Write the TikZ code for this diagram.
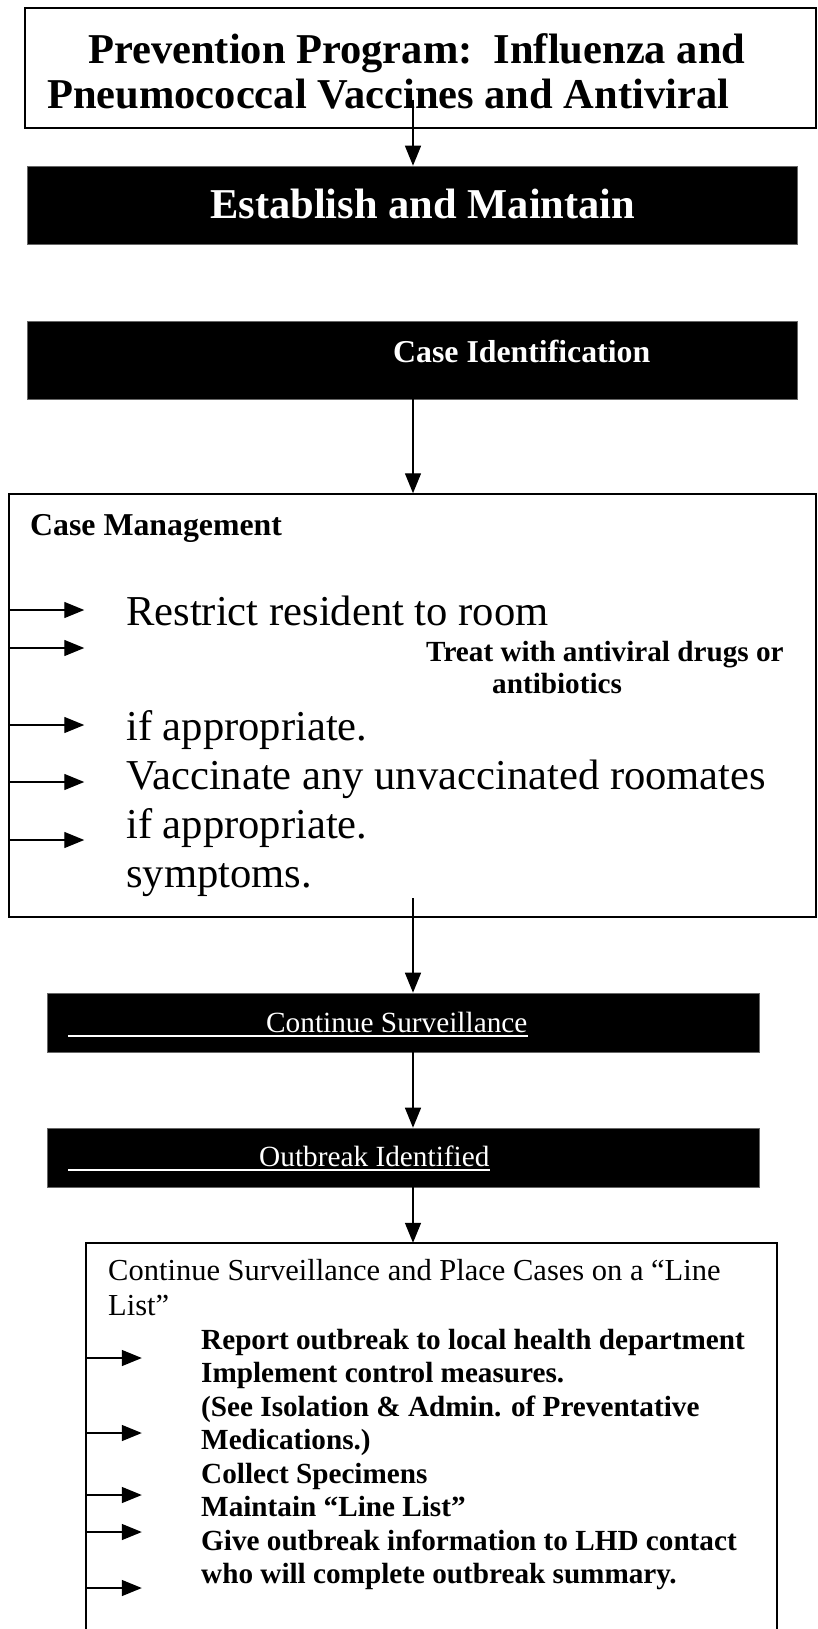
\documentclass[tikz,border=0pt]{standalone}
\usepackage{fontspec}
\setmainfont{Liberation Serif}
\usepackage{tikz}
\usetikzlibrary{arrows.meta, calc}

\begin{document}
\begin{tikzpicture}[
    x=1pt, y=-1pt,
    wbox/.style={rectangle, draw=black, line width=1.5pt, fill=white, inner sep=0pt},
    bbox/.style={rectangle, draw=black!60, line width=0.6pt, fill=black, inner sep=0pt},
    txt/.style={inner sep=0pt, anchor=base west},
    hugebold/.style={txt, font=\fontsize{42.5}{44}\selectfont\bfseries},
    midbold/.style={txt, font=\fontsize{31.8}{34}\selectfont\bfseries},
    bigreg/.style={txt, font=\fontsize{42.6}{46}\selectfont},
    smbold/.style={txt, font=\fontsize{29.2}{32}\selectfont\bfseries},
    smreg/.style={txt, font=\fontsize{29.3}{32}\selectfont},
    arr/.style={-{Triangle[length=20pt, width=16pt]}, line width=1.4pt},
    uline/.style={white, line width=1.3pt}
]
\useasboundingbox (0,0) rectangle (817,1629);

% Boxes
\node[wbox, minimum width=791pt, minimum height=120pt] (prog) at (420.5,68) {};
\node[bbox, minimum width=770pt, minimum height=78pt] (estab) at (412,205) {};
\node[bbox, minimum width=770pt, minimum height=78pt] (caseid) at (412,360) {};
\node[wbox, minimum width=807pt, minimum height=423pt] (casemgmt) at (412.5,705.5) {};
\node[bbox, minimum width=712pt, minimum height=59pt] (contsurv) at (403,1022.5) {};
\node[bbox, minimum width=712pt, minimum height=59pt] (outbreak) at (403,1157.5) {};
\node[rectangle, minimum width=691pt, minimum height=397pt, inner sep=0pt] (linelist) at (431.5,1441.5) {};
\draw[line width=1.5pt] (linelist.south west) -- (linelist.north west) -- (linelist.north east) -- (linelist.south east);

% Texts
\node[hugebold] (prog1) at (88,64) {Prevention Program:\ \ Influenza and};
\node[hugebold] (prog2) at (47,109) {Pneumococcal Vaccines and Antiviral};
\node[hugebold, text=white] (estabtxt) at (210,219) {Establish and Maintain};
\node[midbold, text=white] (caseidtxt) at (393,362) {Case Identification};

\node[midbold] (cmtitle) at (30,535) {Case Management};
\node[bigreg] (cm1) at (126,625) {Restrict resident to room};
\node[smbold] (cm2a) at (426,661) {Treat with antiviral drugs or};
\node[smbold] (cm2b) at (492,693) {antibiotics};
\node[bigreg] (cm3) at (126,740) {if appropriate.};
\node[bigreg] (cm4) at (126,789) {Vaccinate any unvaccinated roomates};
\node[bigreg] (cm5) at (126,838) {if appropriate.};
\node[bigreg] (cm6) at (126,887) {symptoms.};

\node[smreg, text=white] (cstxt) at (266,1032) {Continue Surveillance};
\draw[uline] (68,1036) -- (cstxt.east |- 0,1036);
\node[smreg, text=white] (obtxt) at (259,1166) {Outbreak Identified};
\draw[uline] (68,1170) -- (obtxt.east |- 0,1170);

\node[txt, font=\fontsize{30.5}{33}\selectfont] (ll1) at (108,1280) {Continue Surveillance and Place Cases on a “Line};
\node[txt, font=\fontsize{30.5}{33}\selectfont] (ll2) at (108,1315) {List”};
\node[smbold] (ll3) at (201,1349) {Report outbreak to local health department};
\node[smbold] (ll4) at (201,1382.5) {Implement control measures.};
\node[smbold] (ll5) at (201,1416) {(See Isolation \& Admin. of Preventative};
\node[smbold] (ll6) at (201,1449.5) {Medications.)};
\node[smbold] (ll7) at (201,1483) {Collect Specimens};
\node[smbold] (ll8) at (201,1516.5) {Maintain “Line List”};
\node[smbold] (ll9) at (201,1550) {Give outbreak information to LHD contact};
\node[smbold] (ll10) at (201,1583.5) {who will complete outbreak summary.};

% Transitions
\coordinate (col) at (413,100);
\coordinate (cmout) at (413,898);
\draw[arr] (col) -- (col |- estab.north);
\draw[arr] (caseid.south -| col) -- (casemgmt.north -| col);
\draw[arr] (cmout) -- (cmout |- contsurv.north);
\draw[arr] (contsurv.south -| col) -- (outbreak.north -| col);
\draw[arr] (outbreak.south -| col) -- (linelist.north -| col);

% Side arrows
\draw[arr] (casemgmt.west |- 0,610) -- ++(76,0);
\draw[arr] (casemgmt.west |- 0,648) -- ++(76,0);
\draw[arr] (casemgmt.west |- 0,725) -- ++(76,0);
\draw[arr] (casemgmt.west |- 0,782) -- ++(76,0);
\draw[arr] (casemgmt.west |- 0,840) -- ++(76,0);
\draw[arr] (linelist.west |- 0,1358) -- ++(56,0);
\draw[arr] (linelist.west |- 0,1433) -- ++(56,0);
\draw[arr] (linelist.west |- 0,1495) -- ++(56,0);
\draw[arr] (linelist.west |- 0,1532) -- ++(56,0);
\draw[arr] (linelist.west |- 0,1588) -- ++(56,0);

\end{tikzpicture}
\end{document}
